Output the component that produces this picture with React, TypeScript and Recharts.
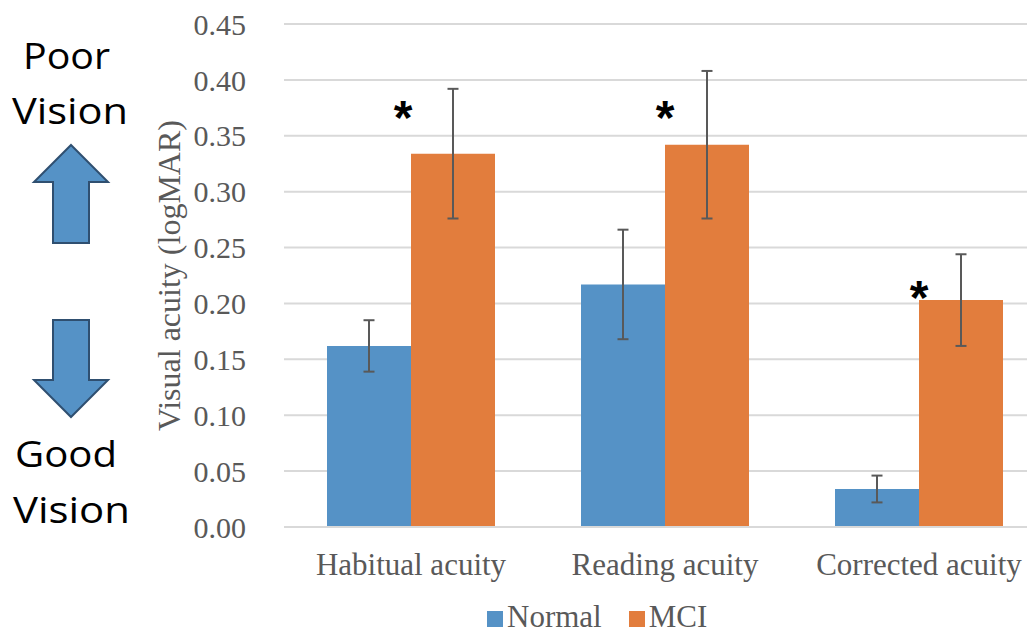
import React from 'react';
import {
  ComposedChart,
  Bar,
  ErrorBar,
  Scatter,
  XAxis,
  YAxis,
  CartesianGrid,
  Legend,
} from 'recharts';

const categories = ['Habitual acuity', 'Reading acuity', 'Corrected acuity'];
const seriesNames = ['Normal', 'MCI'];
const normalValues = [0.162, 0.217, 0.034];
const normalErrors = [0.023, 0.049, 0.012];
const mciValues = [0.334, 0.342, 0.203];
const mciErrors = [0.058, 0.066, 0.041];
// height of the significance asterisk above each group
const starLevels = [0.376, 0.376, 0.215];
const yTicks = [0, 0.05, 0.1, 0.15, 0.2, 0.25, 0.3, 0.35, 0.4, 0.45];

const data = categories.map((name, i) => ({
  name,
  normal: normalValues[i],
  normalErr: normalErrors[i],
  mci: mciValues[i],
  mciErr: mciErrors[i],
  star: starLevels[i],
}));

const serif = '"Liberation Serif", "Times New Roman", serif';
const grey = '#595959';
const blue = '#5592c6';
const orange = '#e27d3d';

const Star = (props: any) => {
  const { cx, cy, index } = props;
  // first asterisk sits a little left of the group centre in the original
  const shift = index === 0 ? -8 : 0;
  return (
    <text
      x={cx + shift}
      y={cy + 27}
      textAnchor="middle"
      fontFamily='"Liberation Sans", Arial, sans-serif'
      fontWeight="bold"
      fontSize={48}
      fill="#000"
    >
      *
    </text>
  );
};

const renderLegend = (props: any) => {
  const items = (props.payload || [])
    .filter((entry: any) => seriesNames.includes(entry.value))
    .sort((a: any, b: any) => seriesNames.indexOf(a.value) - seriesNames.indexOf(b.value));
  return (
    <div
      style={{
        display: 'flex',
        alignItems: 'center',
        fontFamily: serif,
        fontSize: 31,
        color: grey,
        lineHeight: '34px',
        whiteSpace: 'nowrap',
      }}
    >
      {items.map((entry: any, i: number) => (
        <span
          key={entry.value}
          style={{ display: 'flex', alignItems: 'center', marginRight: i === 0 ? 27 : 0 }}
        >
          <span
            style={{
              display: 'inline-block',
              width: 16,
              height: 16,
              background: entry.color,
              marginRight: 4,
              position: 'relative',
              top: 2,
            }}
          />
          {entry.value}
        </span>
      ))}
    </div>
  );
};

function VisionNotes() {
  const font = '"Open Sans", "Noto Sans", sans-serif';
  const arrowStyle = { fill: blue, stroke: '#2f4f70', strokeWidth: 2 };
  return (
    <svg
      width={150}
      height={636}
      style={{ position: 'absolute', left: 0, top: 0, pointerEvents: 'none' }}
    >
      <text x={23} y={69} fontFamily={font} fontSize={36} textLength={87} lengthAdjust="spacingAndGlyphs">
        Poor
      </text>
      <text x={12} y={124} fontFamily={font} fontSize={36} textLength={116} lengthAdjust="spacingAndGlyphs">
        Vision
      </text>
      <path d="M71,145 L108,182 L89,182 L89,243 L53,243 L53,182 L34,182 Z" {...arrowStyle} />
      <path d="M53,320 L89,320 L89,380 L108,380 L71,417 L34,380 L53,380 Z" {...arrowStyle} />
      <text x={15} y={467} fontFamily={font} fontSize={36} textLength={102} lengthAdjust="spacingAndGlyphs">
        Good
      </text>
      <text x={13} y={523} fontFamily={font} fontSize={36} textLength={117} lengthAdjust="spacingAndGlyphs">
        Vision
      </text>
    </svg>
  );
}

export default function App() {
  return (
    <div
      style={{
        position: 'relative',
        width: 1035,
        height: 636,
        overflow: 'hidden',
        margin: -8,
        background: '#fff',
      }}
    >
      <div style={{ position: 'absolute', left: 0, top: 0 }}>
        <ComposedChart
          width={1050}
          height={636}
          data={data}
          margin={{ top: 24, right: 4, bottom: 49, left: 140 }}
          barGap={0}
          barCategoryGap={43}
        >
          <CartesianGrid vertical={false} stroke="#d9d9d9" strokeWidth={2} />
          <XAxis
            dataKey="name"
            height={60}
            axisLine={{ stroke: '#d9d9d9', strokeWidth: 2 }}
            tickLine={false}
            tickSize={0}
            tickMargin={26}
            tick={{ fill: grey, fontSize: 31, fontFamily: serif }}
            interval={0}
          />
          <YAxis
            domain={[0, 0.45]}
            ticks={yTicks}
            tickFormatter={(v: number) => v.toFixed(2)}
            axisLine={false}
            tickLine={false}
            tickSize={0}
            tickMargin={38}
            width={144}
            tick={{ fill: grey, fontSize: 30, fontFamily: serif }}
            label={{
              value: 'Visual acuity (logMAR)',
              angle: -90,
              position: 'insideLeft',
              offset: 29,
              style: { textAnchor: 'middle', fill: grey, fontSize: 32, fontFamily: serif },
            }}
          />
          <Legend
            verticalAlign="middle"
            align="center"
            content={renderLegend}
            wrapperStyle={{ left: 487, top: 600, width: 'auto' }}
          />
          <Bar dataKey="normal" name="Normal" fill={blue} isAnimationActive={false}>
            <ErrorBar dataKey="normalErr" width={5.5} stroke={grey} strokeWidth={2} isAnimationActive={false} />
          </Bar>
          <Bar dataKey="mci" name="MCI" fill={orange} isAnimationActive={false}>
            <ErrorBar dataKey="mciErr" width={5.5} stroke={grey} strokeWidth={2} isAnimationActive={false} />
          </Bar>
          <Scatter dataKey="star" name="star" legendType="none" shape={Star} isAnimationActive={false} />
        </ComposedChart>
      </div>
      <VisionNotes />
    </div>
  );
}
